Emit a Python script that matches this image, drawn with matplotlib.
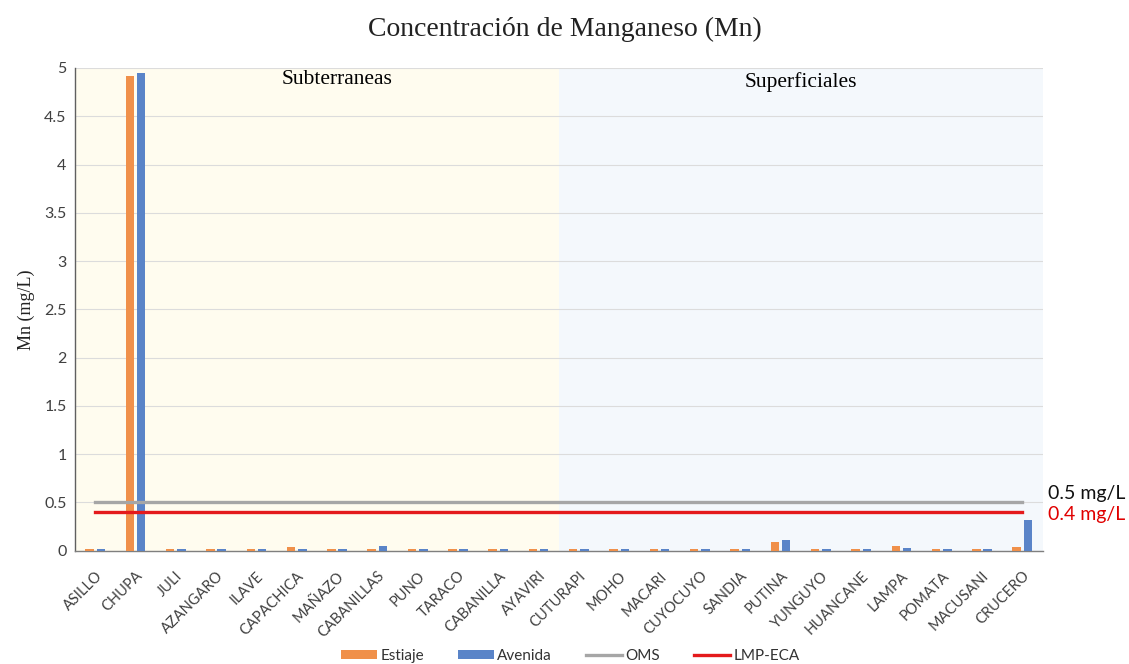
import matplotlib.pyplot as plt
import numpy as np

SANS = ["Lato", "DejaVu Sans"]
SERIF = ["Liberation Serif", "DejaVu Serif"]

stations = ["ASILLO", "CHUPA", "JULI", "AZANGARO", "ILAVE", "CAPACHICA", "MAÑAZO",
            "CABANILLAS", "PUNO", "TARACO", "CABANILLA", "AYAVIRI", "CUTURAPI",
            "MOHO", "MACARI", "CUYOCUYO", "SANDIA", "PUTINA", "YUNGUYO", "HUANCANE",
            "LAMPA", "POMATA", "MACUSANI", "CRUCERO"]
estiaje = [0.02, 4.92, 0.02, 0.02, 0.02, 0.04, 0.02, 0.02, 0.02, 0.02, 0.02, 0.02,
           0.02, 0.02, 0.02, 0.02, 0.02, 0.095, 0.02, 0.02, 0.045, 0.02, 0.02, 0.035]
avenida = [0.02, 4.95, 0.02, 0.02, 0.02, 0.02, 0.02, 0.05, 0.02, 0.02, 0.02, 0.02,
           0.02, 0.02, 0.02, 0.02, 0.02, 0.11, 0.02, 0.02, 0.03, 0.02, 0.02, 0.32]
oms = 0.5
lmp_eca = 0.4
n_subterraneas = 12   # las primeras 12 estaciones son subterraneas

C_EST = "#F0904A"
C_AVE = "#5A84C8"

fig = plt.figure(figsize=(11.29, 6.64), dpi=100)
ax = fig.add_axes([0.0664, 0.1706, 0.857, 0.727])

x = np.arange(len(stations))
n = len(stations)
ax.set_xlim(-0.5, n - 0.5)
ax.set_ylim(0, 5)

# fondos de los dos grupos
ax.axvspan(-0.5, n_subterraneas - 0.5, color="#FFFCEF", zorder=0, lw=0)
ax.axvspan(n_subterraneas - 0.5, n - 0.5, color="#F4F8FC", zorder=0, lw=0)

ax.set_yticks(np.arange(0, 5.01, 0.5))
ax.set_yticklabels(["0", "0.5", "1", "1.5", "2", "2.5", "3", "3.5", "4", "4.5", "5"],
                   fontsize=11.5, family=SANS, color="#404040")
ax.grid(axis="y", color="#DCDCDC", lw=0.8, zorder=1)
ax.set_axisbelow(True)

w = 0.21
b1 = ax.bar(x - 0.14, estiaje, width=w, color=C_EST, label="Estiaje", zorder=3)
b2 = ax.bar(x + 0.14, avenida, width=w, color=C_AVE, label="Avenida", zorder=3)

l1, = ax.plot([x[0], x[-1]], [oms, oms], color="#A6A6A6", lw=2.4, label="OMS", zorder=4)
l2, = ax.plot([x[0], x[-1]], [lmp_eca, lmp_eca], color="#E41A1C", lw=2.4,
              label="LMP-ECA", zorder=4)

ax.set_xticks(x)
ax.set_xticklabels(stations, rotation=45, ha="right", rotation_mode="anchor",
                   fontsize=10.5, family=SANS, color="#404040")
ax.tick_params(axis="both", length=0, pad=6)
ax.tick_params(axis="x", pad=13)

for s in ["top", "right"]:
    ax.spines[s].set_visible(False)
ax.spines["left"].set_color("#606060")
ax.spines["bottom"].set_color("#7F7F7F")
ax.spines["left"].set_linewidth(1.0)
ax.spines["bottom"].set_linewidth(1.0)

ax.set_ylabel("Mn (mg/L)", fontsize=13, family=SERIF, color="#222222", labelpad=7)

ax.text(6.0, 4.88, "Subterraneas", fontsize=15.5, family=SERIF, ha="center", va="center")
ax.text(17.5, 4.85, "Superficiales", fontsize=15.5, family=SERIF, ha="center", va="center")

fig.text(0.5, 0.956, "Concentración de Manganeso (Mn)", fontsize=20, family=SERIF,
         ha="center", va="center", color="#222222")

ax.text(1.006, 0.595 / 5, "0.5 mg/L", transform=ax.transAxes, fontsize=14,
        family=SANS, color="#111111", va="center")
ax.text(1.006, 0.38 / 5, "0.4 mg/L", transform=ax.transAxes, fontsize=14,
        family=SANS, color="#E00000", va="center")

leg = fig.legend([b1, b2, l1, l2], ["Estiaje", "Avenida", "OMS", "LMP-ECA"],
                 loc="center", bbox_to_anchor=(0.505, 0.012), ncol=4, frameon=False,
                 prop={"family": SANS, "size": 11}, handlelength=2.4, handleheight=0.55,
                 columnspacing=2.2, handletextpad=0.2)
for t in leg.get_texts():
    t.set_color("#333333")

fig.savefig("out.png", dpi=100)
